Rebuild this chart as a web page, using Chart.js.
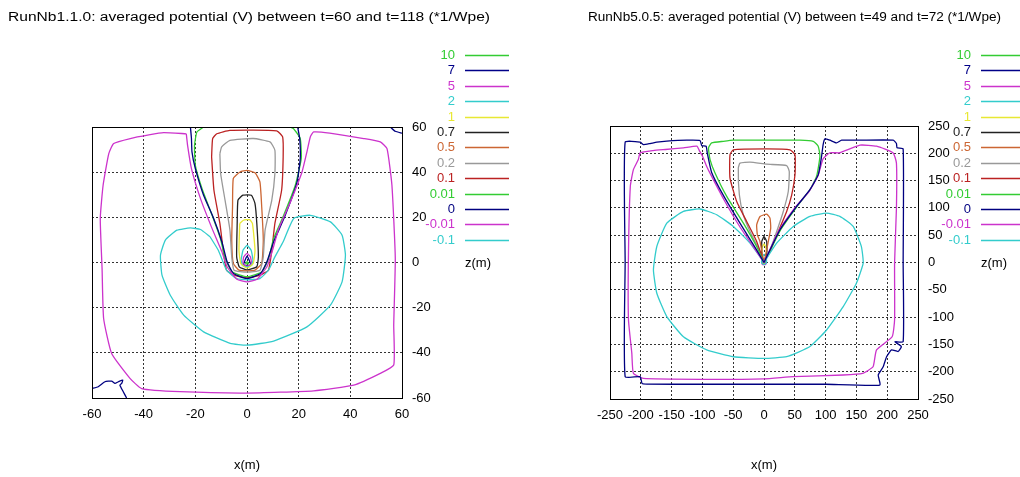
<!DOCTYPE html>
<html>
<head>
<meta charset="utf-8">
<script src="https://cdn.jsdelivr.net/npm/chart.js@4.4.1/dist/chart.umd.min.js"></script>
<style>
  body { margin: 0; background: #fff; }
  .panel { position: absolute; top: 0; }
</style>
</head>
<body>
<div class="panel" style="left:0"><canvas id="left" width="520" height="477"></canvas></div>
<div class="panel" style="left:520px"><canvas id="right" width="500" height="477"></canvas></div>
<script>
// contour levels (V) and the colour of each level
const levels = ['10', '7', '5', '2', '1', '0.7', '0.5', '0.2', '0.1', '0.01', '0', '-0.01', '-0.1']
const levelColors = ['#33cc33', '#000088', '#cc33cc', '#33cccc', '#e8e833', '#222222', '#cc6633',
  '#999999', '#bb2222', '#33cc33', '#000080', '#cc33cc', '#33cccc']

// ---- RunNb1.1.0 contours, [x, z] in m ----
const left10 = [[-0.6, -0.6], [0, 0.4], [0.6, -0.6], [-0.6, -0.6]]
const left7 = [[-1.5, -1.2], [0, 2.8], [1.5, -1.2], [-1.5, -1.2]]
const left5 = [[-1.3, 2.5], [0, 4], [1.3, 2.5], [1.7, -0.4], [0, -1.7], [-1.6, -0.4], [-1.3, 2.5]]
const left2 = [[-1.6, 5.4], [0, 7.6], [1.6, 5.4], [2.3, 1.1], [1.8, -1.2], [0, -2], [-1.8, -1.2], [-2.3, 1.1], [-1.6, 5.4]]
const left1 = [[-2.8, 17.3], [-1.4, 18.7], [1, 19], [2.1, 17.3], [3.1, 5.4], [2.4, -0.4], [0, -2.5], [-2.4, -0.4], [-3.1, 5.4], [-2.8, 17.3]]
const left07 = [[-3.8, 17.3], [-3.5, 27.6], [-1.6, 29.8], [1.7, 29.8], [3.1, 26.1], [3.8, 17.3], [4.4, 2.5], [3.8, -1.9],
  [0, -3.3], [-3, -1.9], [-4, 2.5], [-3.8, 17.3]]
const left05 = [[-5.6, 24.6], [-5.3, 37.2], [-2.7, 40.1], [0, 40.8], [3.1, 39.7], [5, 35.7], [5.7, 24.6], [6.3, 9.9],
  [5.7, -0.4], [3.1, -3.4], [0, -3.7], [-3.1, -3.4], [-5.3, -0.4], [-5.9, 9.9], [-5.6, 24.6]]
const left02 = [[-10.5, 48.2], [-9.8, 51.2], [-6.6, 54.1], [2.4, 54.9], [8.9, 53.4], [10.8, 49.7], [10.8, 39.4], [9.6, 27.6],
  [7, 14.3], [6.3, 2.5], [5, -3.4], [0, -4.3], [-5, -3.4], [-5.9, 2.5], [-6.6, 14.3], [-8.5, 27.6], [-10.2, 39.4], [-10.5, 48.2]]
const left01 = [[-13.7, 46.8], [-13.3, 54.9], [-11.7, 57], [-6.6, 58.5], [11.5, 58.3], [13.8, 55.6], [14, 46.8], [13.4, 32],
  [10.8, 17.3], [9.6, 5.4], [8.3, -3.4], [5, -5.6], [0, -6.8], [-5, -5.6], [-7.9, -3.4], [-9.2, 5.4], [-10.5, 17.3],
  [-12.8, 32], [-13.7, 46.8]]
const left001 = [[-16.8, 60], [-19.4, 57.8], [-20.3, 51.9], [-20, 43], [-17.4, 32.7], [-13.5, 20.9], [-10.3, 10.6], [-8.4, 1.8],
  [-5.8, -4.1], [0, -6.3], [5.8, -4.1], [8.4, 1.8], [10.3, 10.6], [14.2, 20.9], [18.7, 34.2], [21, 46], [20.6, 54.9],
  [18, 59.3], [16.8, 60]]
const left0 = [[-21.9, 60], [-21.5, 54.9], [-21.3, 49], [-20, 41.6], [-16.8, 29.8], [-12.9, 19.5], [-9.7, 9.1], [-7.7, 0.3],
  [-5.2, -4.9], [0, -7.1], [5.2, -4.9], [7.7, 0.3], [10.3, 9.1], [14.8, 20.9], [19.4, 35.7], [20.6, 46], [20.4, 54.9], [19.6, 60]]
const left0Corner = [[-60, -55.8], [-57.6, -55], [-55, -52.8], [-52.4, -52.5], [-51.1, -53.5], [-49.8, -52.8], [-48.1, -52.1],
  [-48.5, -53.5], [-49.2, -54.3], [-47.9, -57.2], [-46.6, -60]]
const left0Top = [[55.5, 60], [57.4, 58.1], [60, 57.3]]
const leftM001 = [[-23.5, 57], [-32.3, 57.5], [-38, 56.5], [-45.2, 54.9], [-51.6, 52.7], [-53.5, 48.2], [-55.7, 34.2], [-56.8, 19.5],
  [-56.1, -2.7], [-55.5, -24.8], [-52.4, -40.3], [-45.3, -51.3], [-40.8, -55.8], [-25.9, -57.2], [0, -57.8], [25.8, -56.8],
  [41.3, -54.3], [51.6, -49.1], [56.8, -45.4], [56.8, -27.7], [57.4, 1.8], [56.1, 34.2], [54.2, 50.4], [51.6, 53.4],
  [45.2, 54.9], [32, 57.3], [25.8, 57.8], [24.5, 55.6], [23.2, 49], [21.3, 40.1], [16.8, 26.8], [12.3, 15], [9.7, 4.7],
  [7.7, -1.9], [3.9, -7.4], [0, -8.6], [-3.9, -7.4], [-7.7, -1.9], [-9.7, 4.7], [-13.5, 15], [-18, 28.3], [-21.5, 41.6],
  [-23, 51.9], [-23.5, 57]]
const leftM01 = [[-14.3, 11.4], [-18, 14.6], [-21.9, 15.3], [-27.1, 14.3], [-31.6, 9.9], [-33.5, 3.2], [-32.9, -5.6],
  [-29.7, -14.5], [-24.5, -23.3], [-16.8, -30.7], [-6.5, -35.8], [0, -36.6], [10.3, -34.8], [23.2, -28.5], [32.3, -18.9],
  [36.8, -8.6], [38.1, 3.2], [36.8, 12.1], [32.3, 18], [24.5, 20.9], [18.1, 19.5], [14, 9.2], [10.8, 2.5], [8.3, -3.4],
  [5, -7.1], [0, -7.7], [-4, -7.1], [-7.9, -3.4], [-11.1, 5.4], [-14.3, 11.4]]

// ---- RunNb5.0.5 contours, [x, z] in m ----
const right10 = [[-2, -2], [0, 2], [2, -2], [-2, -2]]
const right7 = [[-3, -2], [0, 5], [3, -2], [-3, -2]]
const right5 = [[-3, 3], [0, 8], [3, 3], [3, -3], [0, -4], [-3, -3], [-3, 3]]
const right2 = [[-3, 10], [0, 15], [3, 10], [4, 0], [0, -4], [-4, 0], [-3, 10]]
const right1 = [[-3, 28], [0, 34], [3, 28], [4, 10], [0, -2], [-4, 10], [-3, 28]]
const right07 = [[-3.7, 38.5], [0, 47.6], [4.4, 38.5], [4.4, 14], [0, 0], [-3.7, 14], [-3.7, 38.5]]
const right05 = [[-10.9, 50.7], [-11.9, 69], [-6.5, 84.2], [4.4, 88.6], [9.7, 81.3], [10.9, 63], [7, 38.5], [1.6, 8],
  [0, 0], [-6.5, 38.5], [-10.9, 50.7]]
const right02 = [[0, 0], [-6.5, 20], [-22.7, 56.8], [-33.6, 87.4], [-40, 124], [-41.7, 172.9], [-39, 182], [-22.7, 183.9],
  [4.4, 180], [36.8, 177.6], [41, 166.7], [39.4, 130], [31.3, 93.4], [20.6, 56.8], [7, 14], [0, 0]]
const right01 = [[0, 0], [-11.9, 38.5], [-28.1, 75], [-44.3, 111.7], [-55.2, 154.6], [-55.2, 197.3], [-49.8, 206.4],
  [4.4, 208], [42.2, 206.4], [50.3, 197.3], [50.3, 160.7], [45, 124], [36.8, 93.4], [23.2, 56.8], [9.7, 20], [0, 0]]
const right001 = [[0, 0], [-12, 29.4], [-33.5, 72], [-60.5, 121], [-79.5, 164], [-87.6, 188.5], [-90, 210], [-84.9, 219],
  [-66, 222], [-49.7, 224], [0, 224], [58.4, 224], [80, 222], [88, 213], [90.8, 194.6], [85.4, 158], [74.6, 133.4],
  [52, 100], [26, 58], [10, 22], [0, 0]]
const right0 = [[0, 0], [-12, 23], [-39, 72], [-65, 121], [-85, 165], [-92, 200], [-94, 213], [-101, 214], [-103.8, 223.4],
  [-125.4, 224], [-157.8, 222.2], [-174, 220.3], [-184.9, 217.9], [-195.7, 216], [-201, 220.3], [-225.4, 220.3],
  [-225.4, 0], [-225.4, -209], [-201, -209], [-198, -221.5], [-190, -222.8], [-100, -223], [0, -223], [100, -223],
  [188, -224.6], [185.4, -206], [193.5, -191], [199, -172.6], [207, -160], [217.8, -163], [223, -154], [212.4, -145],
  [225.9, -145], [225.9, 0], [225.9, 208], [216, 210], [215, 218], [209.7, 224], [155.7, 224], [126, 224], [117.8, 219],
  [107, 224], [98.9, 226.4], [96, 216], [93.5, 194.6], [88.1, 161], [74.6, 133.4], [53, 102.8], [25.9, 60], [0, 0]]
const rightM001 = [[0, 0], [-12, 20], [-39, 65], [-65, 115], [-86, 160], [-93, 176], [-100, 195], [-105, 205], [-109, 213],
  [-130.8, 209.9], [-160, 207], [-180, 205], [-201, 200.7], [-204, 188.5], [-212, 170], [-217, 139.5], [-220, 17],
  [-220, -105], [-214.6, -166], [-212, -203], [-195.7, -212.4], [-100, -214], [0, -213], [47.6, -209], [128.6, -206],
  [160, -203], [177, -191], [182.7, -160], [208, -136], [212, -105], [212, 0], [215, 100], [215, 182], [209.7, 200.7],
  [182.7, 213], [155.7, 215], [123, 201], [107, 201], [96, 190], [88, 160], [73, 130], [50, 100], [24, 58], [0, 0]]
const rightM01 = [[0, 0], [-22.7, 35.5], [-49.7, 66], [-76.8, 87.5], [-103.8, 98], [-130.8, 93.6], [-157.8, 72],
  [-174, 29.4], [-179.5, -13.5], [-174, -56.3], [-157.8, -99], [-130.8, -136], [-93, -160], [-49.7, -172.6], [0, -175.6],
  [36.8, -172.6], [74.6, -154], [101.6, -123.6], [128.6, -80.8], [150, -38], [161, -1.2], [158, 29.4], [144.8, 66],
  [123.2, 84.5], [101.6, 90.6], [74.6, 84.5], [47.6, 66], [20.5, 35.5], [0, 0]]

// [level index, path]
const leftContours = [[11, leftM001], [12, leftM01], [10, left0], [10, left0Corner], [10, left0Top], [9, left001],
  [8, left01], [7, left02], [6, left05], [5, left07], [4, left1], [3, left2], [2, left5], [1, left7], [0, left10]]
const rightContours = [[10, right0], [11, rightM001], [12, rightM01], [9, right001], [8, right01], [7, right02],
  [6, right05], [5, right07], [4, right1], [3, right2], [2, right5], [1, right7], [0, right10]]

Chart.defaults.font.family = "'Liberation Sans', Arial, sans-serif"
Chart.defaults.font.size = 13
Chart.defaults.color = '#000'

const gnuplotFrame = {
  id: 'gnuplotFrame',
  afterDraw(chart, args, opts) {
    const { ctx, chartArea: a } = chart
    ctx.save()
    ctx.strokeStyle = '#000'
    ctx.lineWidth = 1
    ctx.setLineDash([])
    ctx.strokeRect(Math.round(a.left) + 0.5, Math.round(a.top) + 0.5,
      Math.round(a.right - a.left), Math.round(a.bottom - a.top))

    // title, fitted to the width it has in the picture
    ctx.font = "12px 'Liberation Sans', Arial, sans-serif"
    ctx.fillStyle = '#000'
    ctx.textBaseline = 'alphabetic'
    const w = ctx.measureText(opts.title).width
    ctx.save()
    ctx.translate(opts.titleX, 21)
    ctx.scale(opts.titleWidth / w, 1)
    ctx.fillText(opts.title, 0, 0)
    ctx.restore()

    // key
    ctx.font = "13px 'Liberation Sans', Arial, sans-serif"
    ctx.textBaseline = 'middle'
    ctx.textAlign = 'right'
    ctx.lineWidth = 1.5
    levels.forEach((lv, i) => {
      const y = Math.round(55 + i * 15.4)
      ctx.fillStyle = levelColors[i]
      ctx.fillText(lv, a.right + 53, y)
      ctx.strokeStyle = levelColors[i]
      ctx.beginPath()
      ctx.moveTo(a.right + 63, y + 0.5)
      ctx.lineTo(a.right + 107, y + 0.5)
      ctx.stroke()
    })

    ctx.fillStyle = '#000'
    ctx.textAlign = 'left'
    ctx.fillText('z(m)', a.right + 63, chart.scales.y.getPixelForValue(0) + 1)
    ctx.restore()
  }
}

function makePanel(id, contours, lim, step, pad, yAxisWidth, xAxisHeight, title, titleX, titleWidth) {
  const datasets = contours.map(([k, path]) => ({
    label: levels[k],
    data: path.map(([x, y]) => ({ x, y })),
    showLine: true,
    borderColor: levelColors[k],
    borderWidth: 1.3,
    pointRadius: 0,
    fill: false,
    tension: 0.15
  }))
  return new Chart(document.getElementById(id), {
    type: 'scatter',
    data: { datasets },
    plugins: [gnuplotFrame],
    options: {
      responsive: false,
      animation: false,
      layout: { padding: pad },
      plugins: {
        legend: { display: false },
        tooltip: { enabled: false },
        gnuplotFrame: { title, titleX, titleWidth }
      },
      scales: {
        x: {
          type: 'linear', position: 'bottom', min: -lim, max: lim,
          ticks: { stepSize: step, autoSkip: false, maxRotation: 0, padding: 9 },
          grid: { color: '#333', lineWidth: 1, drawTicks: false },
          border: { display: false, dash: [2, 2] },
          title: { display: true, text: 'x(m)', padding: { top: 0, bottom: 4 } },
          afterFit(s) { s.height = xAxisHeight }
        },
        y: {
          type: 'linear', position: 'right', min: -lim, max: lim,
          ticks: { stepSize: step, autoSkip: false, padding: 10 },
          grid: { color: '#333', lineWidth: 1, drawTicks: false },
          border: { display: false, dash: [2, 2] },
          afterFit(s) { s.width = yAxisWidth }
        }
      }
    }
  })
}

makePanel('left', leftContours, 60, 20, { left: 92, top: 127, right: 18, bottom: 0 }, 100, 79,
  'RunNb1.1.0: averaged potential (V) between t=60 and t=118 (*1/Wpe)', 8, 482)
makePanel('right', rightContours, 250, 50, { left: 90, top: 126, right: 2, bottom: 0 }, 100, 78,
  'RunNb5.0.5: averaged potential (V) between t=49 and t=72 (*1/Wpe)', 68, 413)
</script>
</body>
</html>
